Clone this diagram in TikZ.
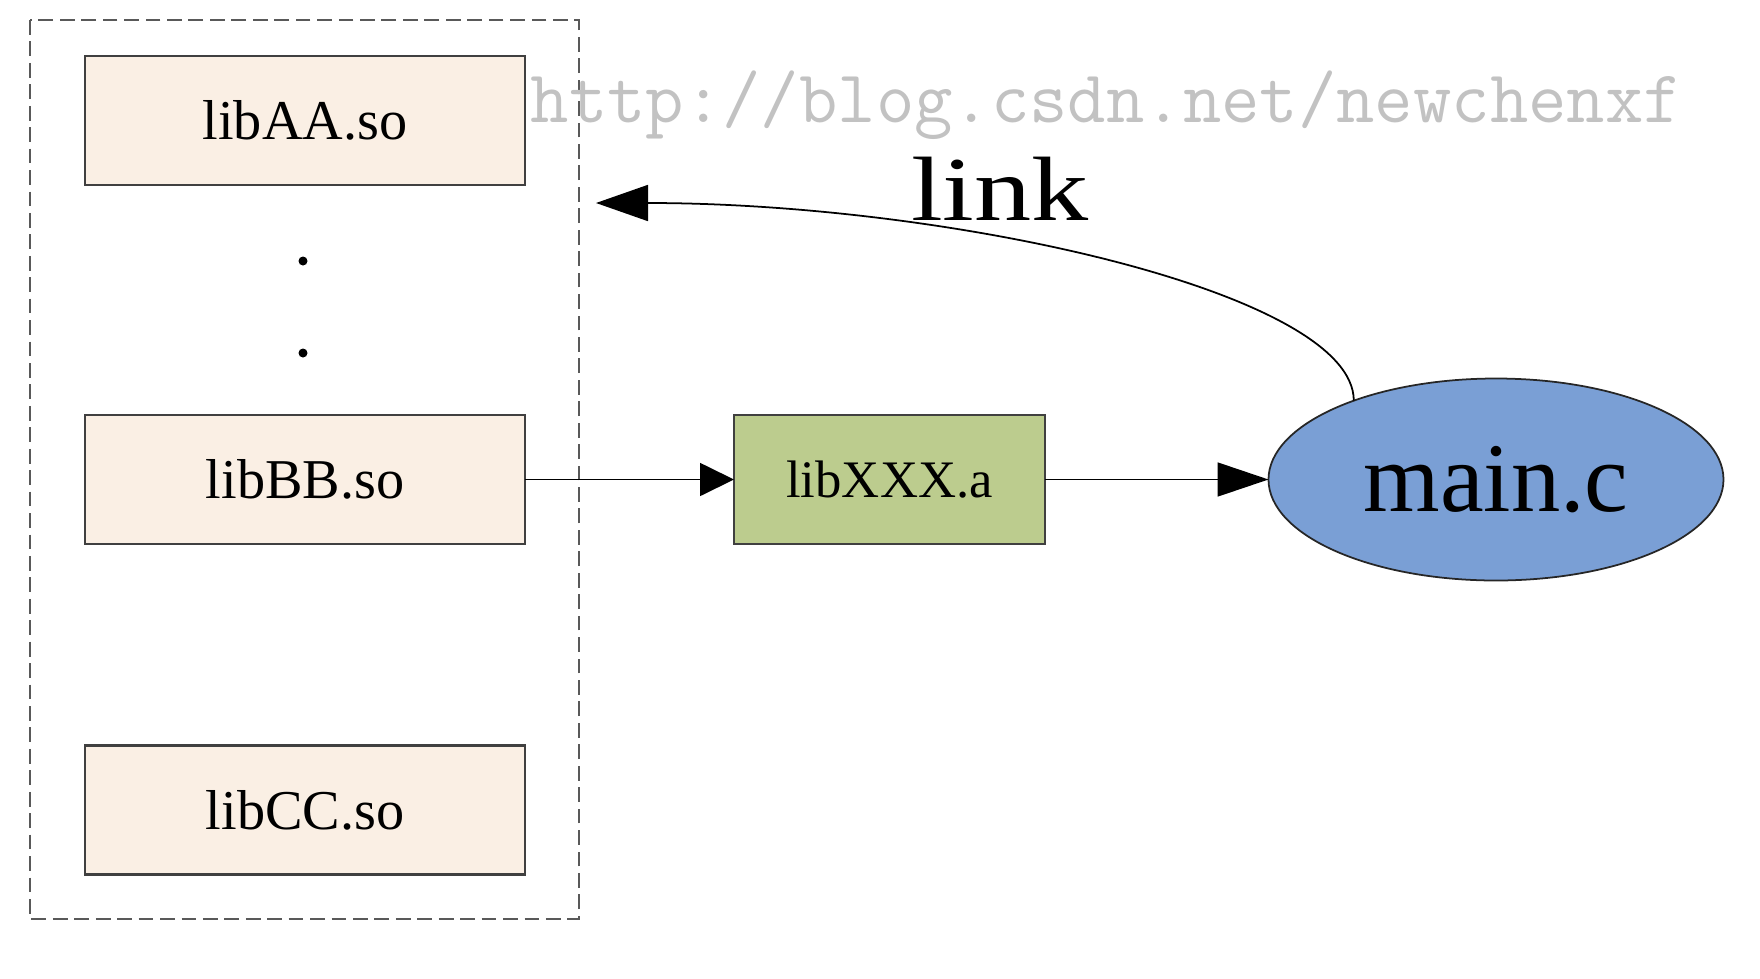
\documentclass[tikz,border=0pt]{standalone}
\usepackage{fontspec}
\setmainfont{Liberation Serif}
\newfontfamily\wideserif[FakeStretch=1.25]{Liberation Serif}
\usetikzlibrary{arrows.meta}
\usetikzlibrary{shapes.geometric}
\tikzset{>=latex}
\definecolor{sofill}{RGB}{250,239,228}
\definecolor{afill}{RGB}{188,204,142}
\definecolor{cfill}{RGB}{122,159,213}
\colorlet{edgegray}{black!75}
\tikzstyle{lib}=[draw=edgegray,line width=0.6pt,fill=sofill,minimum width=4.40cm,minimum height=1.29cm,
  inner sep=0pt,outer sep=0pt,font=\fontsize{16}{19}\selectfont]
\tikzstyle{alib}=[lib,fill=afill,minimum width=3.11cm,font=\fontsize{15}{18}\selectfont]
\tikzstyle{src}=[ellipse,draw=black!85,line width=0.5pt,fill=cfill,minimum width=4.55cm,minimum height=2.02cm,
  inner sep=0pt,outer sep=0pt,font=\fontsize{28}{32}\selectfont]
\tikzstyle{groupbox}=[draw=black!65,line width=0.7pt,dash pattern=on 4.2pt off 1.9pt]
\tikzstyle{dotmark}=[circle,fill=black,inner sep=0pt,minimum size=0.09cm]
\tikzstyle{conn}=[line width=0.5pt,black]

\begin{document}
\begin{tikzpicture}
  \useasboundingbox (0,0) rectangle (17.6,-9.78); % canvas, origin top left
  \coordinate (T) at (5.96,-2.03); % tip of link arrow

  % SHARED LIBS
  \draw[groupbox] (0.30,-0.20) rectangle (5.79,-9.19);
  \node[lib] (AA) at (3.05,-1.205) {libAA.so};
  \node[dotmark] (dot1) at (3.03,-2.61) {};
  \node[dotmark] (dot2) at (3.03,-3.53) {};
  \node[lib] (BB) at (3.05,-4.795) {libBB.so};
  \node[lib] (CC) at (3.05,-8.10) {libCC.so};

  % STATIC LIB, MAIN
  \node[alib] (XXX) at (8.895,-4.795) {libXXX.a};
  \node[src] (main) at (14.96,-4.795) {main.c};

  % ARROWS
  \draw[conn,-{Triangle[length=0.34cm,width=0.33cm]}] (BB) -- (XXX);
  \draw[conn,-{Triangle[length=0.51cm,width=0.34cm]}] (XXX) -- (main);
  \draw[conn,-{Triangle[length=0.52cm,width=0.36cm]}]
    (main.151) .. controls +(0,1.08) and (9.50,-2.03) .. (T);
  \node[anchor=base,inner sep=0pt,font=\wideserif\fontsize{26}{30}\selectfont] (lbl) at (10.00,-2.20) {link};

  % watermark
  \node[anchor=base west,inner sep=0pt,black!24,font=\ttfamily\fontsize{21.2}{24}\selectfont]
    (wm) at (5.30,-1.22) {http://blog.csdn.net/newchenxf};
\end{tikzpicture}
\end{document}
